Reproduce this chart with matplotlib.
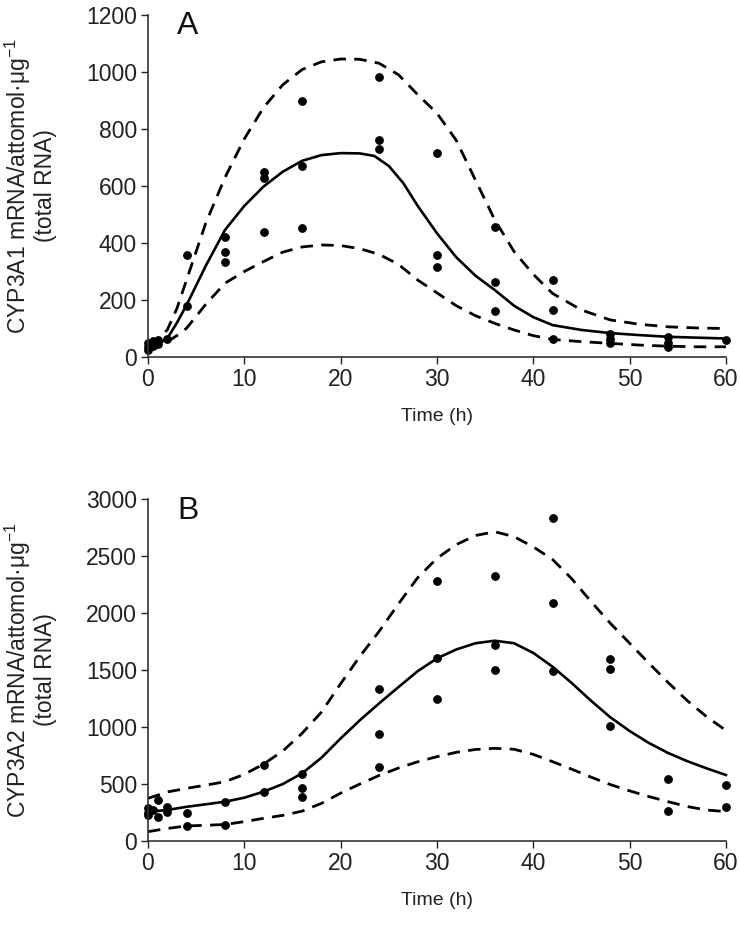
import matplotlib
matplotlib.use("Agg")
import matplotlib.pyplot as plt

plt.rcParams['font.family'] = ['Liberation Sans', 'DejaVu Sans']
plt.rcParams['mathtext.fontset'] = 'custom'
plt.rcParams['mathtext.rm'] = 'Liberation Sans'
plt.rcParams['mathtext.default'] = 'regular'

# ---------------- Panel A: CYP3A1 ----------------
a_pts_t = [0, 0, 0, 0.5, 0.5, 1, 1, 2, 4, 4, 8, 8, 8, 12, 12, 12, 16, 16, 16,
           24, 24, 24, 30, 30, 30, 36, 36, 36, 42, 42, 42, 48, 48, 48,
           54, 54, 54, 60]
a_pts_v = [50, 35, 25, 55, 40, 45, 60, 65, 358, 178, 420, 370, 335, 650, 627, 437,
           899, 671, 454, 981, 761, 729, 715, 358, 315, 457, 262, 162,
           270, 165, 62, 80, 62, 50, 72, 50, 35, 60]

a_mean_t = [0, 1, 2, 3, 4, 6, 8, 10, 12, 14, 16, 18, 20, 22, 23.5, 25, 26.5, 28, 30,
            32, 34, 36, 38, 40, 42, 45, 48, 51, 54, 57, 60]
a_mean_v = [35, 45, 65, 120, 182, 320, 446, 530, 598, 650, 688, 708, 715, 714, 705,
            670, 610, 530, 434, 350, 285, 235, 180, 140, 112, 95, 84, 77, 71, 68, 65]

a_up_t = [0, 1, 2, 3, 4, 6, 8, 10, 12, 14, 16, 18, 20, 22, 24, 26, 28, 30,
          32, 34, 36, 38, 40, 42, 45, 48, 51, 54, 57, 60]
a_up_v = [48, 65, 95, 170, 270, 470, 630, 765, 875, 955, 1008, 1035, 1045, 1044,
          1030, 990, 920, 855, 760, 620, 481, 370, 290, 223, 165, 130, 115, 106, 102, 100]

a_lo_t = [0, 1, 2, 3, 4, 6, 8, 10, 12, 14, 16, 18, 20, 22, 24, 26, 28, 30,
          32, 34, 36, 38, 40, 42, 45, 48, 51, 54, 57, 60]
a_lo_v = [28, 38, 54, 75, 101, 185, 259, 300, 335, 368, 386, 393, 391, 380, 360,
          325, 270, 225, 180, 145, 118, 95, 75, 62, 54, 48, 42, 38, 36, 36]

# ---------------- Panel B: CYP3A2 ----------------
b_pts_t = [0, 0, 0, 0.5, 1, 1, 2, 2, 4, 4, 8, 8, 12, 12, 16, 16, 16,
           24, 24, 24, 30, 30, 30, 36, 36, 36, 42, 42, 42, 48, 48, 48,
           54, 54, 60, 60]
b_pts_v = [289, 245, 230, 270, 360, 213, 301, 257, 243, 130, 339, 140, 667, 433,
           588, 462, 389, 1331, 936, 652, 2285, 1602, 1243, 2327, 1719, 1500,
           2831, 2091, 1491, 1597, 1509, 1009, 541, 266, 491, 301]

b_mean_t = [0, 2, 4, 6, 8, 10, 12, 14, 16, 18, 20, 22, 24, 26, 28, 30, 32, 34,
            36, 38, 40, 42, 44, 46, 48, 50, 52, 54, 56, 58, 60]
b_mean_v = [257, 272, 300, 322, 345, 380, 433, 500, 594, 730, 900, 1060, 1208, 1350,
            1490, 1602, 1680, 1735, 1757, 1735, 1650, 1529, 1385, 1230, 1085, 965,
            860, 772, 700, 637, 579]

b_up_t = [0, 2, 4, 6, 8, 10, 12, 14, 16, 18, 20, 22, 24, 26, 28, 30, 32, 34,
          36, 38, 40, 42, 44, 46, 48, 50, 52, 54, 56, 58, 60]
b_up_v = [374, 430, 462, 490, 520, 585, 675, 790, 945, 1130, 1380, 1620, 1840, 2080,
          2310, 2480, 2600, 2680, 2713, 2670, 2580, 2470, 2300, 2100, 1910, 1735,
          1560, 1390, 1230, 1090, 970]

b_lo_t = [0, 2, 4, 6, 8, 10, 12, 14, 16, 18, 20, 22, 24, 26, 28, 30, 32, 34,
          36, 38, 40, 42, 44, 46, 48, 50, 52, 54, 56, 58, 60]
b_lo_v = [82, 110, 132, 138, 145, 170, 199, 225, 262, 330, 420, 500, 575, 640,
          695, 740, 778, 803, 813, 805, 760, 696, 630, 560, 495, 440, 390, 345,
          302, 272, 258]

panels = [
    dict(pts_t=a_pts_t, pts_v=a_pts_v, mean=(a_mean_t, a_mean_v), up=(a_up_t, a_up_v),
         lo=(a_lo_t, a_lo_v), ylim=(0, 1200), yticks=[0, 200, 400, 600, 800, 1000, 1200],
         label='A', ylabel='CYP3A1 mRNA/attomol·μg$^{-1}$\n(total RNA)',
         rect=[0.2, 0.614, 0.781, 0.37]),
    dict(pts_t=b_pts_t, pts_v=b_pts_v, mean=(b_mean_t, b_mean_v), up=(b_up_t, b_up_v),
         lo=(b_lo_t, b_lo_v), ylim=(0, 3000), yticks=[0, 500, 1000, 1500, 2000, 2500, 3000],
         label='B', ylabel='CYP3A2 mRNA/attomol·μg$^{-1}$\n(total RNA)',
         rect=[0.2, 0.0908, 0.781, 0.3697]),
]

fig = plt.figure(figsize=(7.4, 9.25), dpi=100)
for p in panels:
    ax = fig.add_axes(p['rect'])
    ax.plot(*p['up'], color='black', lw=2.0, ls=(0, (4.5, 3)), clip_on=False)
    ax.plot(*p['lo'], color='black', lw=2.0, ls=(0, (4.5, 3)), clip_on=False)
    ax.plot(*p['mean'], color='black', lw=1.9, clip_on=False)
    ax.plot(p['pts_t'], p['pts_v'], 'o', color='black', ms=5.3, clip_on=False)
    ax.set_xlim(0, 60)
    ax.set_ylim(*p['ylim'])
    ax.set_xticks([0, 10, 20, 30, 40, 50, 60])
    ax.set_yticks(p['yticks'])
    ax.spines['top'].set_visible(False)
    ax.spines['right'].set_visible(False)
    for s in ('left', 'bottom'):
        ax.spines[s].set_linewidth(1.2)
        ax.spines[s].set_color('#333333')
    ax.tick_params(direction='out', length=5, width=1.0, labelsize=16.5,
                   colors='#222222', pad=3)
    ax.set_xlabel('Time (h)', fontsize=14, color='#222222', labelpad=12)
    ax.text(0.05, 1.01, p['label'], transform=ax.transAxes, fontsize=23,
            ha='left', va='top', color='#111111')
    pos = ax.get_position()
    fig.text(0.041, pos.y0 + pos.height / 2, p['ylabel'], rotation=90,
             ha='center', va='center', multialignment='center',
             fontsize=16.5, color='#222222', linespacing=1.05)

fig.savefig('out.png', dpi=100)
